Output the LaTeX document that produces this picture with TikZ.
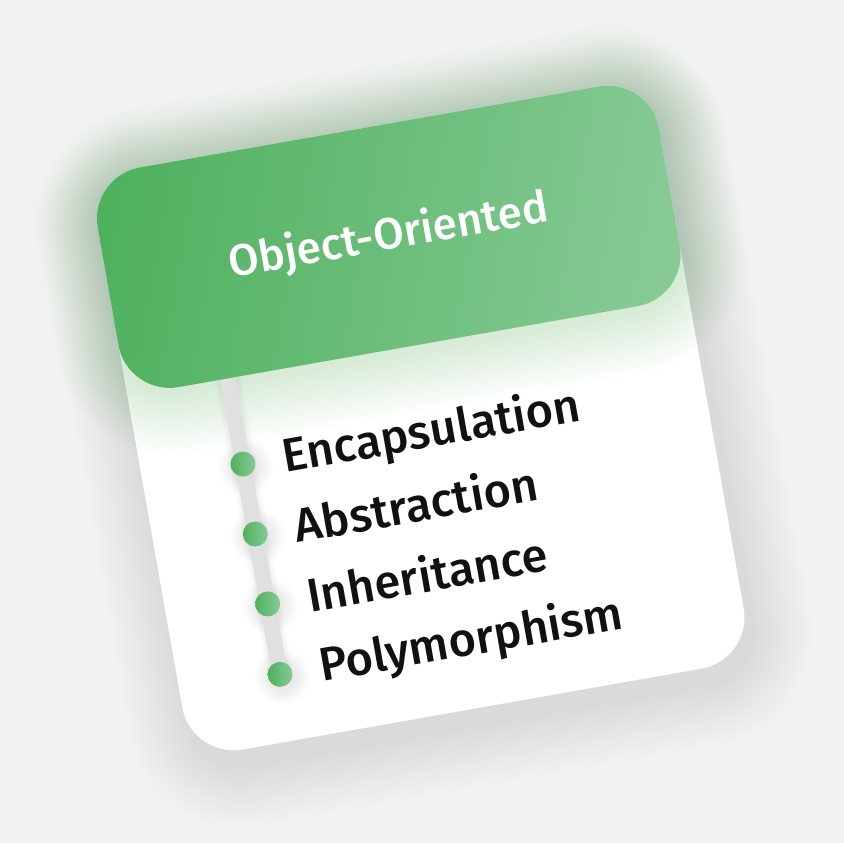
\documentclass[tikz,border=0pt]{standalone}
\usepackage{fontspec}
\setmainfont{Fira Sans}
\newfontfamily\itemfont{Fira Sans Medium}
\usetikzlibrary{calc}
\pgfdeclarelayer{bg}
\pgfdeclarelayer{back}
\pgfsetlayers{bg,back,main}

\definecolor{pagebg}{HTML}{F2F2F2}
\definecolor{greenA}{HTML}{4FB15E}
\definecolor{greenB}{HTML}{87CA96}
\definecolor{glowgreen}{HTML}{5CB86A}
\definecolor{stemgray}{HTML}{E0E0E0}
\definecolor{inkblack}{HTML}{111111}

\tikzset{
  headerbox/.style={rectangle, rounded corners=52pt, minimum width=570pt,
    minimum height=223pt, inner sep=0pt, left color=greenA, right color=greenB,
    shading angle=80, transform shape, text=white,
    font=\itemfont\fontsize{44}{44}\selectfont},
  itemtext/.style={anchor=base west, inner sep=0pt, transform shape,
    text=inkblack, font=\itemfont\fontsize{47}{47}\selectfont},
  dotnode/.style={circle, inner sep=0pt, minimum size=25pt,
    left color=greenA, right color=greenB},
  stem/.style={draw=stemgray, line width=16pt, line cap=butt},
}

\begin{document}
\begin{tikzpicture}[x=1pt,y=1pt]
\begin{pgfonlayer}{bg}
  \fill[pagebg] (0,0) rectangle (844,843);
\end{pgfonlayer}
\useasboundingbox (0,0) rectangle (844,843);

% card frame: x to the right, y downwards, tilted by 10 degrees
\begin{scope}[shift={(88.7,666.5)}, rotate=10, y=-1pt]
  \begin{pgfonlayer}{bg}
    % soft drop shadow of the card
    \foreach \i in {1,...,24} {
      \pgfmathsetmacro\e{\i*2.6}
      \pgfmathsetmacro\r{52+\e}
      \fill[black, opacity=0.003, rounded corners=\r pt]
        ({4-\e},{16-\e}) rectangle ({574+\e},{607+\e});
    }
    % card body
    \fill[white, rounded corners=52pt] (0,0) rectangle (570,591);
    % green glow around the header
    \foreach \i in {1,...,20} {
      \pgfmathsetmacro\e{\i*3.2}
      \pgfmathsetmacro\r{52+\e}
      \fill[glowgreen, opacity=0.011, rounded corners=\r pt]
        ({0-\e},{3-\e}) rectangle ({570+\e},{226+\e});
    }
    % soft halos under the bullets
    \foreach \y in {310,381,452,523.5} {
      \foreach \i in {1,...,10} {
        \fill[black, opacity=0.007] (104,\y+3) circle ({12.5+\i*1.5});
      }
    }
  \end{pgfonlayer}

  \node[headerbox] (header) at (285,111.5) {Object-Oriented};

  \node[dotnode] (d1) at (102,310) {};
  \node[dotnode] (d2) at (102,381) {};
  \node[dotnode] (d3) at (102,452) {};
  \node[dotnode] (d4) at (102,523.5) {};

  \node[itemtext] (t1) at (142,326) {Encapsulation};
  \node[itemtext] (t2) at (142,397) {Abstraction};
  \node[itemtext] (t3) at (142,468) {Inheritance};
  \node[itemtext] (t4) at (142,538) {Polymorphism};

  \coordinate (stemtop) at ($(header.south west)!0.179!(header.south east)$);
  \begin{pgfonlayer}{back}
    \foreach \i in {1,...,6} {
      \pgfmathsetmacro\w{16+\i*2}
      \draw[black, opacity=0.006, line width=\w pt] (stemtop) -- (d4.center);
    }
    \draw[stem] (stemtop) -- (d4.center);
  \end{pgfonlayer}
\end{scope}
\end{tikzpicture}
\end{document}
